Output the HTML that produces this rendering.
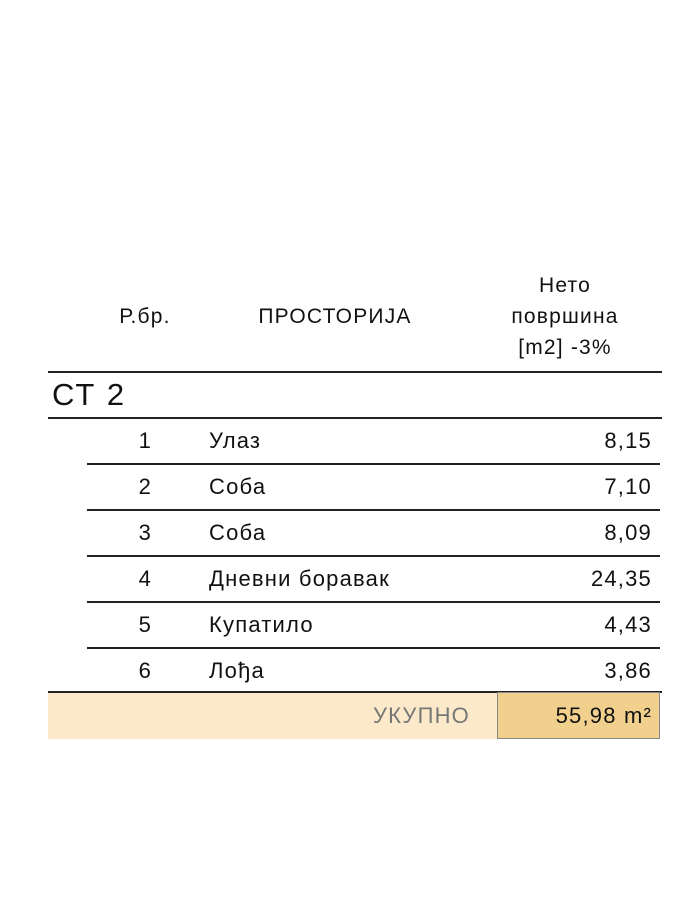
<!DOCTYPE html>
<html><head><meta charset="utf-8"><style>
body{margin:0;width:700px;height:900px;background:#fff;font-family:"Liberation Sans","DejaVu Sans",sans-serif;color:#111;position:relative;overflow:hidden}
.t{position:absolute;white-space:nowrap;letter-spacing:1.2px}
.hl{position:absolute;height:2px;background:#222}
.r{text-align:right}
.c{text-align:center}
</style></head><body>
<div>
<div class="t c" style="left:95px;width:100px;top:305px;font-size:21px">Р.бр.</div>
<div class="t c" style="left:235px;width:200px;top:305px;font-size:21px">ПРОСТОРИЈА</div>
<div class="t c" style="left:480px;width:170px;top:270px;font-size:21px;line-height:31px">Нето<br>површина<br>[m2] -3%</div>
<div class="hl" style="left:48px;width:614px;top:371px"></div>
<div class="t" style="left:52px;top:377px;font-size:31px;letter-spacing:2px">СТ 2</div>
<div class="hl" style="left:48px;width:614px;top:417px"></div>
<div id="rows"></div>
<div class="hl" style="left:48px;width:614px;top:691px"></div>
<div style="position:absolute;left:48px;top:693px;width:449px;height:46px;background:#fbe9c9"></div>
<div style="position:absolute;left:497px;top:692px;width:161px;height:45px;background:#f0d08c;border:1px solid #888"></div>
<div class="t r" style="left:290px;width:180px;top:703px;font-size:22px;color:#777">УКУПНО</div>
<div class="t r" style="left:470px;width:182px;top:703px;font-size:22px">55,98 m²</div>
</div>
<script>
const nums=["1","2","3","4","5","6"];
const names=["Улаз","Соба","Соба","Дневни боравак","Купатило","Лођа"];
const vals=["8,15","7,10","8,09","24,35","4,43","3,86"];
const box=document.getElementById('rows');
nums.forEach((n,i)=>{
  const y=418+i*46;
  const a=document.createElement('div');a.className='t r';a.style.cssText=`left:100px;width:52px;top:${y+10}px;font-size:22px`;a.textContent=n;
  
  
  const b=document.createElement('div');b.className='t';b.style.cssText=`left:209px;top:${y+10}px;font-size:22px`;b.textContent=names[i];
  
  
  const c=document.createElement('div');c.className='t r';c.style.cssText=`left:490px;width:162px;top:${y+10}px;font-size:22px`;c.textContent=vals[i];
  
  
  box.append(a,b,c);
  if(i<5){const l=document.createElement('div');l.className='hl';l.style.cssText=`left:87px;width:573px;top:${y+45}px`;
  
  
  box.append(l);}
});
</script>
</body></html>
